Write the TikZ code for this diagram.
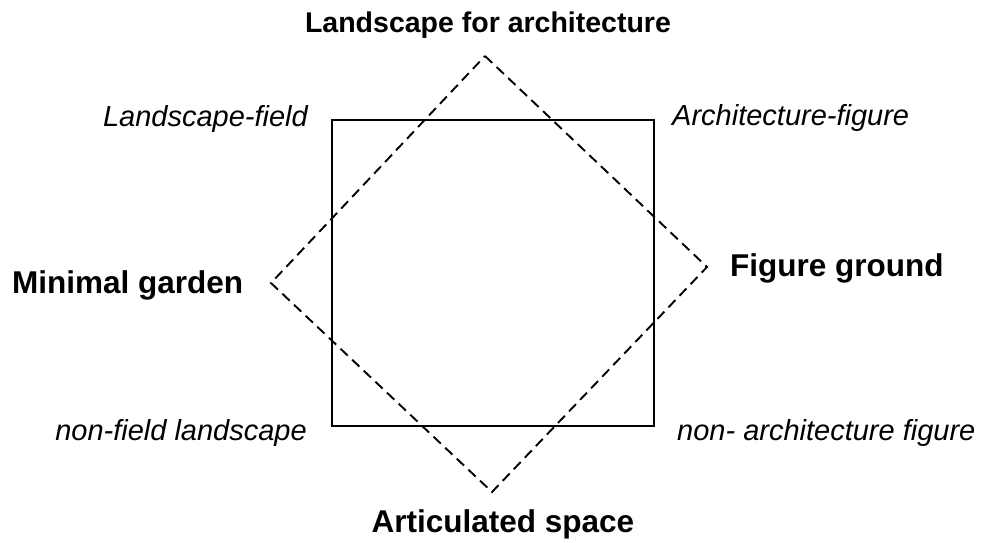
\documentclass[tikz,border=0pt]{standalone}
\usepackage{fontspec}
\setmainfont{Liberation Sans}
\begin{document}
\begin{tikzpicture}[x=1pt,y=-1pt,
  itlabel/.style={inner sep=0pt,font=\fontsize{29}{34}\selectfont\itshape},
  bdlabel/.style={inner sep=0pt,font=\fontsize{31.5}{37}\selectfont\bfseries},
  toplabel/.style={inner sep=0pt,font=\fontsize{28.5}{34}\selectfont\bfseries},
  sqline/.style={line width=1.9pt},
  dmline/.style={line width=1.9pt,dash pattern=on 10pt off 6pt}]
\useasboundingbox (0,0) rectangle (985,543);
% square
\coordinate (sqA) at (332,120);
\coordinate (sqB) at (654,426);
\draw[sqline] (sqA) rectangle (sqB);
% diamond
\coordinate (dT) at (485,56);
\coordinate (dR) at (707,267);
\coordinate (dB) at (492,492);
\coordinate (dL) at (271,283);
\draw[dmline] (dT) -- (dR) -- (dB) -- (dL) -- cycle;
% labels
\node[toplabel,anchor=base] (top) at (488,33) {Landscape for architecture};
\node[itlabel,anchor=base east] (lf) at (308,126) {Landscape-field};
\node[itlabel,anchor=base west] (af) at (672,125) {Architecture-figure};
\node[bdlabel,anchor=base west] (mg) at (12,293) {Minimal garden};
\node[bdlabel,anchor=base west] (fg) at (730,276) {Figure ground};
\node[itlabel,anchor=base east] (nfl) at (307,440) {non-field landscape};
\node[itlabel,anchor=base west] (naf) at (677,440) {non- architecture figure};
\node[bdlabel,anchor=base] (as) at (503,532) {Articulated space};
\end{tikzpicture}
\end{document}
